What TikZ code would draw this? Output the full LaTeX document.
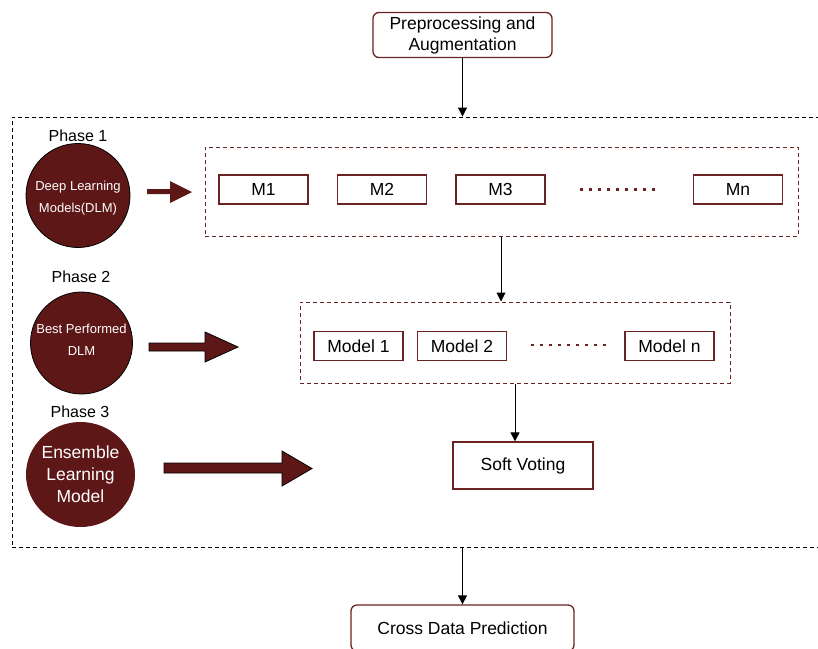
\documentclass[tikz,border=0pt]{standalone}
\usepackage{fontspec}
\setmainfont{Liberation Sans}
\usetikzlibrary{arrows.meta}
\definecolor{maroon}{HTML}{5E1717}
\definecolor{edge}{HTML}{6B2222}
\begin{document}
\begin{tikzpicture}[x=1pt,y=-1pt,
  every node/.style={font=\fontsize{17.5}{21}\selectfont, inner sep=0pt},
  flowbox/.style={draw=edge, line width=1.3pt, rounded corners=6pt, align=center},
  mbox/.style={draw=edge, line width=1.3pt, minimum width=89pt, minimum height=29pt},
  group/.style={draw=edge, line width=1pt, dash pattern=on 4pt off 3pt},
  disc/.style={fill=maroon, draw=black, line width=0.8pt},
  disctext/.style={text=white, align=center},
  phaselabel/.style={font=\fontsize{16}{18}\selectfont},
  flow/.style={-{Triangle[length=9pt,width=9pt]}, line width=1pt, black},
  bigarrow/.style={fill=maroon, draw=black, line width=0.8pt, line join=miter},
  dots/.style={draw=edge, line width=2.6pt, dash pattern=on 2.6pt off 6.4pt}]
\useasboundingbox (0,0) rectangle (818,648);

% input and output stages
\node[flowbox, minimum width=179pt, minimum height=45pt] (pre) at (462.5,35) {Preprocessing and\\Augmentation};
\node[flowbox, minimum width=223pt, minimum height=46pt] (cross) at (462.5,628) {Cross Data Prediction};

% outer dashed frame
\node[draw=black, line width=0.9pt, dash pattern=on 4pt off 3pt, minimum width=812pt, minimum height=430pt] (frame) at (418,332) {};

% phase discs with their captions
\draw[disc] (78,195.5) circle [radius=52];
\draw[disc] (81.5,343) circle [radius=51];
\fill[maroon] (80.5,474.5) ellipse [x radius=54.5, y radius=52.5];
\node[disctext, font=\fontsize{13}{22}\selectfont] (c1) at (78,198) {Deep Learning\\Models(DLM)};
\node[disctext, font=\fontsize{13}{22}\selectfont] (c2) at (81.5,340) {Best Performed\\DLM};
\node[disctext, font=\fontsize{17.5}{22}\selectfont] (c3) at (80.5,474) {Ensemble\\Learning\\Model};
\node[phaselabel] (p1) at (78,136) {Phase 1};
\node[phaselabel] (p2) at (81,277) {Phase 2};
\node[phaselabel] (p3) at (80,412) {Phase 3};

% block arrows pointing at each phase's content
\fill[maroon] (147,189) -- (170,189) -- (170,181) -- (192,192) -- (170,203) -- (170,194) -- (147,194) -- cycle;
\filldraw[bigarrow] (149,343) -- (205,343) -- (205,332) -- (238,347) -- (205,362) -- (205,351) -- (149,351) -- cycle;
\filldraw[bigarrow] (164,463) -- (282,463) -- (282,451) -- (312,468.5) -- (282,486) -- (282,473) -- (164,473) -- cycle;

% phase 1: candidate models
\node[group, minimum width=593pt, minimum height=89pt] (g1) at (501.5,191.5) {};
\node[mbox] (m1) at (263.5,189.5) {M1};
\node[mbox] (m2) at (382,189.5) {M2};
\node[mbox] (m3) at (500.5,189.5) {M3};
\node[mbox] (mn) at (738,189.5) {Mn};
\coordinate (d1a) at (580,189.5);
\coordinate (d1b) at (656,189.5);
\draw[dots] (d1a) -- (d1b);

% phase 2: selected models
\node[group, minimum width=430pt, minimum height=81pt] (g2) at (515,342.5) {};
\node[mbox] (b1) at (358.5,346) {Model 1};
\node[mbox] (b2) at (462,346) {Model 2};
\node[mbox] (bn) at (669.5,346) {Model n};
\coordinate (d2a) at (531,345);
\coordinate (d2b) at (607,345);
\draw[dots] (d2a) -- (d2b);

% phase 3: ensemble
\node[mbox, minimum width=140pt, minimum height=47pt] (sv) at (523,465.5) {Soft Voting};

% connectors
\draw[flow] (pre.south) -- (frame.north -| pre.south);
\draw[flow] (g1.south -| g2.north) ++(-14,0) coordinate (g1out) -- (g1out |- g2.north);
\draw[flow] (g2.south) -- (sv.north -| g2.south);
\coordinate (fout) at (frame.south -| cross.north);
\draw[flow] (fout) -- (cross.north);
\end{tikzpicture}
\end{document}
